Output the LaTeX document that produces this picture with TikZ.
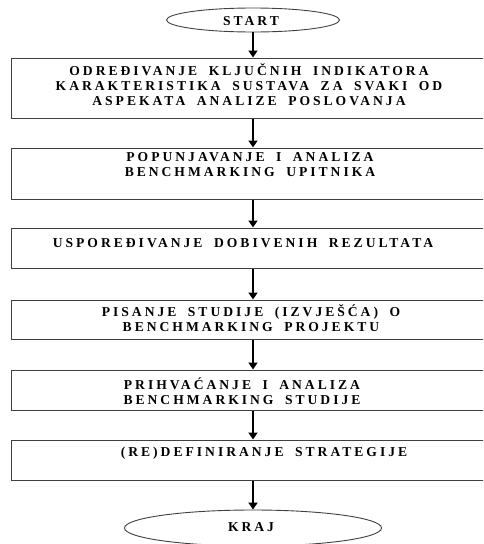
\documentclass[tikz,border=0pt]{standalone}
\usepackage{fontspec}
\setmainfont{Liberation Serif}
\newfontfamily\lblfont{Liberation Serif}[LetterSpace=22,WordSpace=1.8]
\usetikzlibrary{arrows.meta,shapes.geometric}
\begin{document}
\begin{tikzpicture}[x=1pt,y=-1pt,
  box/.style={draw=black!75,line width=1pt,rectangle,minimum width=484pt,inner sep=0pt},
  term/.style={draw=black!75,line width=0.9pt,ellipse,inner sep=0pt},
  txt/.style={font=\lblfont\bfseries\fontsize{13.6}{15}\selectfont,align=center,inner sep=0pt},
  flow/.style={line width=2pt,-{Triangle[width=9pt,length=7pt]}}]
\useasboundingbox (0,0) rectangle (483,544);
\clip (0,0) rectangle (483,544);
\node[term,minimum width=173pt,minimum height=24pt] (start) at (253,20) {};
\node[txt] (tstart) at (251,21) {START};
\node[box,minimum height=60pt] (b1) at (253,88) {};
\node[box,minimum height=51pt] (b2) at (253,173.5) {};
\node[box,minimum height=40pt] (b3) at (253,248) {};
\node[box,minimum height=39pt] (b4) at (253,319.5) {};
\node[box,minimum height=40pt] (b5) at (253,390) {};
\node[box,minimum height=40pt] (b6) at (253,460) {};
\node[term,minimum width=257pt,minimum height=36pt] (kraj) at (253,528) {};
\node[txt] (tkraj) at (251,527.5) {KRAJ};
\node[txt] (t1) at (249,85) {ODREĐIVANJE KLJUČNIH INDIKATORA\\KARAKTERISTIKA SUSTAVA ZA SVAKI OD\\ASPEKATA ANALIZE POSLOVANJA};
\node[txt] (t2) at (250,165) {POPUNJAVANJE I ANALIZA\\BENCHMARKING UPITNIKA};
\node[txt] (t3) at (243,243) {USPOREĐIVANJE DOBIVENIH REZULTATA};
\node[txt] (t4) at (251,318.5) {PISANJE STUDIJE (IZVJEŠĆA) O\\BENCHMARKING PROJEKTU};
\node[txt] (t5) at (242,391) {PRIHVAĆANJE I ANALIZA\\BENCHMARKING STUDIJE};
\node[txt] (t6) at (264,453) {(RE)DEFINIRANJE STRATEGIJE};
\draw[flow] (start.south) -- (b1.north);
\draw[flow] (b1.south) -- (b2.north);
\draw[flow] (b2.south) -- (b3.north);
\draw[flow] (b3.south) -- (b4.north);
\draw[flow] (b4.south) -- (b5.north);
\draw[flow] (b5.south) -- (b6.north);
\draw[flow] (b6.south) -- (kraj.north);
\end{tikzpicture}
\end{document}
